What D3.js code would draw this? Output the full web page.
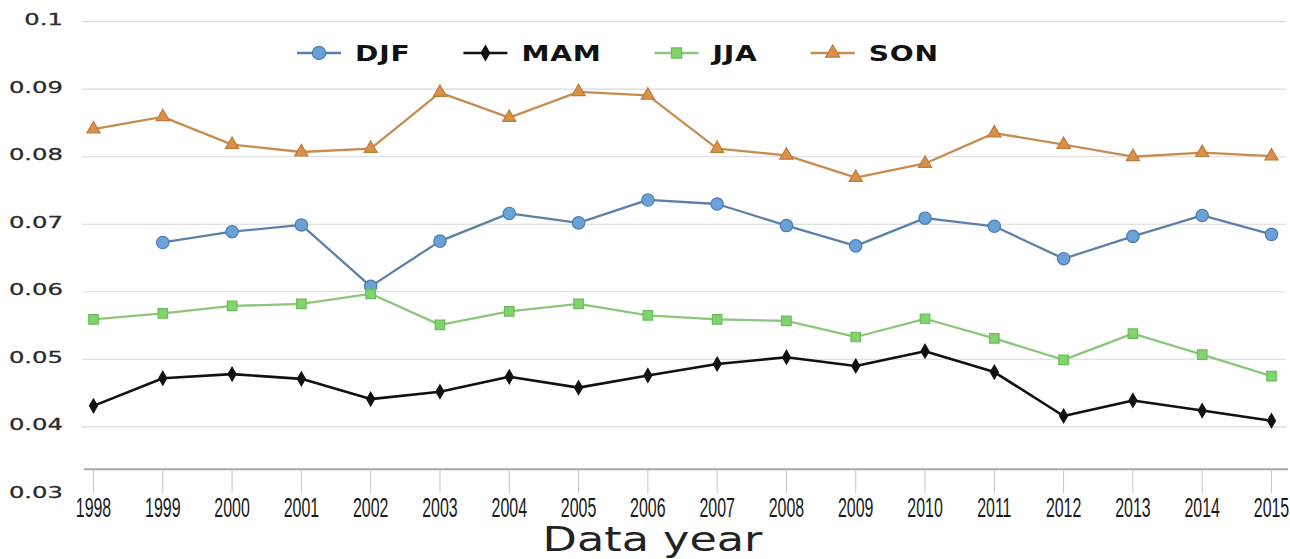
<!DOCTYPE html>
<html>
<head>
<meta charset="utf-8">
<script src="https://cdn.jsdelivr.net/npm/d3@7"></script>
<style>
  html, body { margin: 0; padding: 0; background: #fff; }
  svg { display: block; }
</style>
</head>
<body>
<svg id="chart" width="1290" height="559"></svg>
<script>
// Seasonal values per data year
const years = [1998, 1999, 2000, 2001, 2002, 2003, 2004, 2005, 2006, 2007, 2008, 2009, 2010, 2011, 2012, 2013, 2014, 2015];
const djf = [null, 0.0673, 0.0689, 0.0699, 0.0608, 0.0675, 0.0716, 0.0702, 0.0736, 0.0730, 0.0698, 0.0668, 0.0709, 0.0697, 0.0649, 0.0682, 0.0713, 0.0685];
const mam = [0.0431, 0.0472, 0.0478, 0.0471, 0.0441, 0.0452, 0.0474, 0.0458, 0.0476, 0.0493, 0.0503, 0.0490, 0.0512, 0.0481, 0.0416, 0.0439, 0.0424, 0.0409];
const jja = [0.0559, 0.0568, 0.0579, 0.0582, 0.0597, 0.0551, 0.0571, 0.0582, 0.0565, 0.0559, 0.0557, 0.0533, 0.0560, 0.0531, 0.0499, 0.0538, 0.0507, 0.0475];
const son = [0.0841, 0.0859, 0.0818, 0.0807, 0.0812, 0.0895, 0.0858, 0.0896, 0.0891, 0.0812, 0.0802, 0.0769, 0.0790, 0.0835, 0.0818, 0.0800, 0.0806, 0.0801];
const seriesNames = ["DJF", "MAM", "JJA", "SON"];
const yTickValues = [0.03, 0.04, 0.05, 0.06, 0.07, 0.08, 0.09, 0.1];
const yTickLabels = ["0.03", "0.04", "0.05", "0.06", "0.07", "0.08", "0.09", "0.1"];
const xTitle = "Data year";

const styles = {
  DJF: { line: "#5b80a9", fill: "#6aa2d8", stroke: "#4c7cad", symbol: d3.symbolCircle, size: 120 },
  MAM: { line: "#111111", fill: "#111111", stroke: "#111111", symbol: d3.symbolDiamond, size: 55 },
  JJA: { line: "#8cc67c", fill: "#80d46c", stroke: "#6bbb59", symbol: d3.symbolSquare, size: 90 },
  SON: { line: "#c68c52", fill: "#d99048", stroke: "#bf7a3c", symbol: d3.symbolTriangle, size: 75 }
};
const seriesValues = { DJF: djf, MAM: mam, JJA: jja, SON: son };

const svg = d3.select("#chart");

const x = d3.scalePoint().domain(years).range([93.5, 1271.5]);
const y = d3.scaleLinear().domain([0.03, 0.1]).range([494.3, 21.7]);

const gridLeft = 82, gridRight = 1286;

// horizontal gridlines (the lowest value is replaced by the year axis)
svg.append("g").selectAll("line")
  .data(yTickValues.filter(v => v > 0.03))
  .join("line")
  .attr("x1", gridLeft).attr("x2", gridRight)
  .attr("y1", d => y(d)).attr("y2", d => y(d))
  .attr("stroke", "#d9d9d9").attr("stroke-width", 1.2);

// y tick labels, wide lettering
svg.append("g").selectAll("g")
  .data(yTickValues)
  .join("g")
  .attr("transform", d => `translate(63,${y(d) - 1.5}) scale(1.62,1)`)
  .append("text")
  .attr("text-anchor", "end")
  .attr("dominant-baseline", "central")
  .attr("font-family", "DejaVu Sans, sans-serif")
  .attr("font-size", 15)
  .attr("fill", "#2a2a2a")
  .attr("stroke", "#2a2a2a")
  .attr("stroke-width", 0.25)
  .text((d, i) => yTickLabels[i]);

// year axis
const axisY = y(0.03) - 25;
svg.append("line")
  .attr("x1", 84).attr("x2", 1288)
  .attr("y1", axisY).attr("y2", axisY)
  .attr("stroke", "#a9a9a9").attr("stroke-width", 2);

svg.append("g").selectAll("line")
  .data(years)
  .join("line")
  .attr("x1", d => x(d)).attr("x2", d => x(d))
  .attr("y1", axisY).attr("y2", axisY + 24)
  .attr("stroke", "#c6c6c6").attr("stroke-width", 1);

svg.append("g").selectAll("g")
  .data(years)
  .join("g")
  .attr("transform", d => `translate(${x(d)},517) scale(0.57,1)`)
  .append("text")
  .attr("text-anchor", "middle")
  .attr("font-family", "Liberation Sans, Arial, sans-serif")
  .attr("font-size", 28)
  .attr("fill", "#1a1a1a")
  .text(d => d);

svg.append("g")
  .attr("transform", `translate(${(x(years[0]) + x(years[years.length - 1])) / 2 - 30},551) scale(1.35,1)`)
  .append("text")
  .attr("text-anchor", "middle")
  .attr("font-family", "DejaVu Sans, sans-serif")
  .attr("font-size", 33)
  .attr("fill", "#222")
  .text(xTitle);

// series lines and markers
const line = d3.line()
  .defined(d => d.v != null)
  .x(d => x(d.year))
  .y(d => y(d.v));

seriesNames.forEach(name => {
  const st = styles[name];
  const pts = years.map((year, i) => ({ year, v: seriesValues[name][i] }));
  svg.append("path")
    .datum(pts)
    .attr("d", line)
    .attr("fill", "none")
    .attr("stroke", st.line)
    .attr("stroke-width", name === "MAM" ? 2.6 : 2.3)
    .attr("stroke-linejoin", "round");
  svg.append("g").selectAll("path")
    .data(pts.filter(d => d.v != null))
    .join("path")
    .attr("transform", d => `translate(${x(d.year)},${y(d.v)})`)
    .attr("d", d3.symbol().type(st.symbol).size(st.size))
    .attr("fill", st.fill)
    .attr("stroke", st.stroke)
    .attr("stroke-width", 1.2);
});

// legend
const legend = svg.append("g").attr("transform", "translate(0,53)");
let lx = 297;
seriesNames.forEach(name => {
  const st = styles[name];
  const item = legend.append("g").attr("transform", `translate(${lx},0)`);
  item.append("line")
    .attr("x1", 0).attr("x2", 44)
    .attr("stroke", st.line).attr("stroke-width", 2.6);
  item.append("path")
    .attr("transform", "translate(22,0)")
    .attr("d", d3.symbol().type(st.symbol).size(st.size * 1.15))
    .attr("fill", st.fill).attr("stroke", st.stroke).attr("stroke-width", 1.2);
  const tg = item.append("g").attr("transform", "translate(58,8) scale(1.34,1)");
  const t = tg.append("text")
    .attr("font-family", "DejaVu Sans, sans-serif")
    .attr("font-weight", "bold")
    .attr("font-size", 21)
    .attr("fill", "#111")
    .attr("letter-spacing", 0.6)
    .text(name);
  const w = t.node().getComputedTextLength() * 1.34;
  lx += 58 + w + 53;
});
</script>
</body>
</html>
